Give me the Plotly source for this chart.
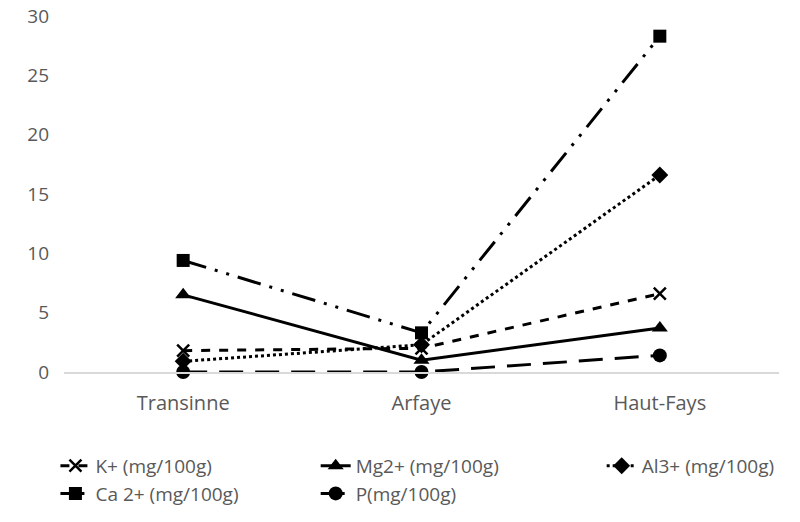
import plotly.graph_objects as go

sites = ["Transinne", "Arfaye", "Haut-Fays"]
k_vals = [1.8, 2.0, 6.6]
mg_vals = [6.5, 1.0, 3.7]
al_vals = [0.9, 2.3, 16.6]
ca_vals = [9.4, 3.3, 28.3]
p_vals = [0.0, 0.0, 1.4]

# name, values, dash, marker symbol, marker size, legend column
series = [
    ("K+ (mg/100g)", k_vals, "dash", "x-thin-open", 12, "legend"),
    ("Mg2+ (mg/100g)", mg_vals, "solid", "triangle-up", 14, "legend2"),
    ("Al3+ (mg/100g)", al_vals, "dot", "diamond", 13, "legend3"),
    ("Ca 2+ (mg/100g)", ca_vals, "24px,9px,3px,9px,3px,9px", "square", 13, "legend"),
    ("P(mg/100g)", p_vals, "24px,12px", "circle", 14, "legend2"),
]

fig = go.Figure()
for name, vals, dash, symbol, size, leg in series:
    fig.add_trace(go.Scatter(
        x=sites, y=vals, name=name, mode="lines+markers", legend=leg,
        line=dict(color="black", width=3, dash=dash),
        marker=dict(symbol=symbol, size=size, color="black",
                    line=dict(color="black", width=2.5 if symbol == "x-thin-open" else 0)),
        cliponaxis=False,
    ))

legend_style = dict(
    orientation="v", xanchor="left", yref="container", y=0.144, yanchor="top",
    font=dict(family="Open Sans", size=19, color="#595959"),
    tracegroupgap=0, bgcolor="rgba(0,0,0,0)",
)

fig.update_layout(
    width=800, height=522,
    margin=dict(l=64, r=21, t=16, b=150),
    plot_bgcolor="white", paper_bgcolor="white",
    font=dict(family="Open Sans", size=20, color="#595959"),
    showlegend=True,
    legend=dict(x=-0.012, **legend_style),
    legend2=dict(x=0.352, **legend_style),
    legend3=dict(x=0.752, **legend_style),
)
fig.update_xaxes(
    type="category", range=[-0.5, 2.5], showgrid=False, automargin=False,
    showline=True, linecolor="#d9d9d9", linewidth=1.5,
    ticks="", ticklabelstandoff=12, tickfont=dict(size=20, color="#595959"),
)
fig.update_yaxes(
    range=[0, 30], dtick=5, showgrid=False, zeroline=False, automargin=False,
    showline=False, ticks="", ticklabelstandoff=14,
    tickfont=dict(size=19, color="#595959"),
)

fig.write_html("out.html")
